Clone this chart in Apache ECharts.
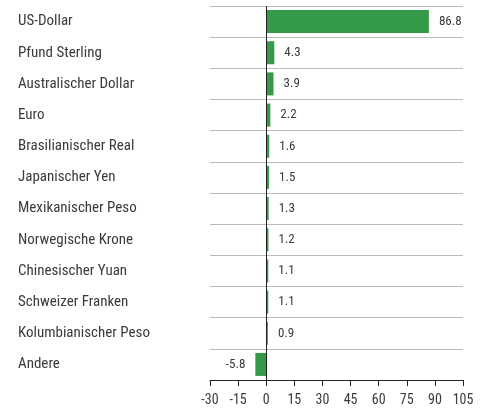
<!DOCTYPE html>
<html><head><meta charset="utf-8">
<script src="https://cdn.jsdelivr.net/npm/echarts@6/dist/echarts.min.js"></script>
<style>html,body{margin:0;padding:0;background:#fff}#c{width:486px;height:408px}</style>
</head><body><div id="c"></div>
<script>
var categories = ["US-Dollar","Pfund Sterling","Australischer Dollar","Euro","Brasilianischer Real","Japanischer Yen","Mexikanischer Peso","Norwegische Krone","Chinesischer Yuan","Schweizer Franken","Kolumbianischer Peso","Andere"];
var values = [86.8,4.3,3.9,2.2,1.6,1.5,1.3,1.2,1.1,1.1,0.9,-5.8];
var xMin = -30, xMax = 105, xStep = 15;
var FONT = "'Roboto Condensed','DejaVu Sans Condensed',sans-serif";
var chart = echarts.init(document.getElementById('c'));
var seriesData = values.map(function(v){
  return v<0 ? {value:v,label:{position:'left'}} : {value:v};
});
chart.setOption({
  animation:false,
  grid:{left:210,right:23,top:6,bottom:28,containLabel:false},
  xAxis:{type:'value',min:xMin,max:xMax,interval:xStep,
    axisLine:{show:true,onZero:false,lineStyle:{color:'#222',width:1}},
    axisTick:{show:true,length:6,lineStyle:{color:'#222'}},
    splitLine:{show:false},
    axisLabel:{color:'#3a3a3a',fontFamily:FONT,fontSize:14,margin:13}},
  yAxis:{type:'category',data:categories,inverse:true,
    axisLine:{show:false},axisTick:{show:false},
    splitLine:{show:true,lineStyle:{color:'#bbb',width:1}},
    axisLabel:{align:'left',margin:192,color:'#3a3a3a',fontFamily:FONT,fontSize:15}},
  series:[{type:'bar',data:seriesData,barWidth:23,
    itemStyle:{color:'#349a47'},
    label:{show:true,position:'right',distance:10,color:'#3a3a3a',fontFamily:FONT,fontSize:13,
      formatter:function(p){return p.value.toFixed(1);}},
    markLine:{silent:true,symbol:'none',label:{show:false},
      lineStyle:{color:'#222',type:'solid',width:1},data:[{xAxis:0}]}
  }]
});
</script></body></html>
